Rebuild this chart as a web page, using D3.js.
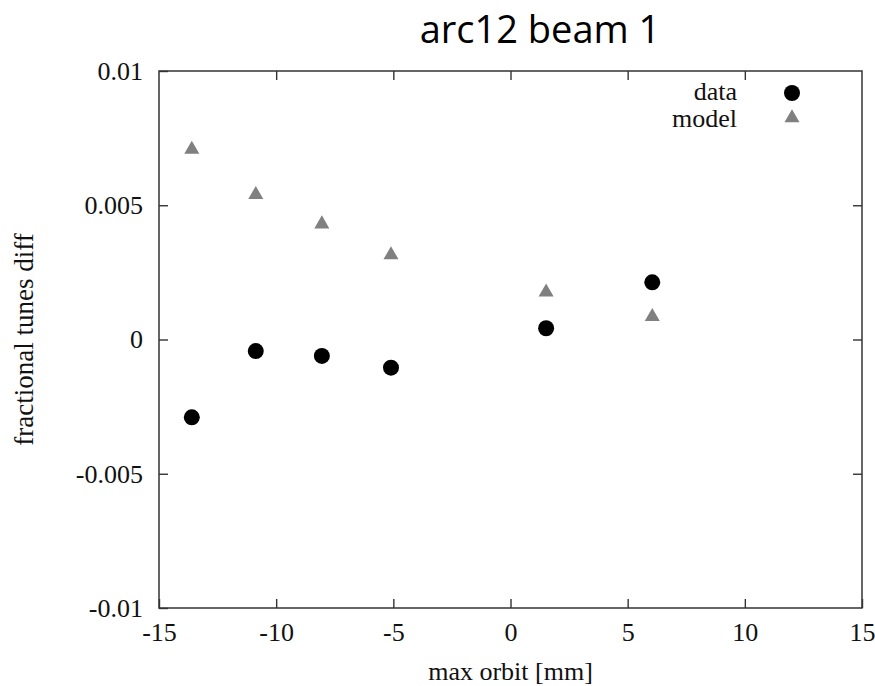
<!DOCTYPE html>
<html>
<head>
<meta charset="utf-8">
<script src="https://cdn.jsdelivr.net/npm/d3@7"></script>
<style>
  body { margin: 0; background: #fff; }
  svg { display: block; }
  .axis text { font-family: "Liberation Serif", "DejaVu Serif", serif; font-size: 26px; fill: #111; }
  .axis line { stroke: #333; stroke-width: 1.4; }
</style>
</head>
<body>
<svg id="chart" width="875" height="686"></svg>
<script>
// data
var orbit = [-13.6, -10.87, -8.05, -5.1, 1.52, 6.05];
var dataTune = [-0.0029, -0.00043, -0.00061, -0.00105, 0.00042, 0.00213];
var modelTune = [0.00708, 0.00539, 0.0043, 0.00315, 0.00176, 0.00085];
var xTicks = [-15, -10, -5, 0, 5, 10, 15];
var yTicks = [-0.01, -0.005, 0, 0.005, 0.01];
var seriesNames = ["data", "model"];

var svg = d3.select("#chart");

var mLeft = 159, mRight = 862, mTop = 71, mBottom = 608;

var x = d3.scaleLinear().domain([-15, 15]).range([mLeft, mRight]);
var y = d3.scaleLinear().domain([-0.01, 0.01]).range([mBottom, mTop]);

// title
svg.append("text")
  .attr("x", 540)
  .attr("y", 43)
  .attr("text-anchor", "middle")
  .style("font-family", "'Open Sans', 'Liberation Sans', sans-serif")
  .style("font-size", "38px")
  .style("fill", "#000")
  .text("arc12 beam 1");

// axes, ticks point inward; plain hyphen for minus like the original
var fmt = function(d) { return String(d); };

svg.append("g").attr("class", "axis")
  .attr("transform", "translate(0," + mBottom + ")")
  .call(d3.axisBottom(x).tickValues(xTicks).tickSizeInner(-9).tickSizeOuter(0).tickPadding(15).tickFormat(fmt));

svg.append("g").attr("class", "axis")
  .attr("transform", "translate(0," + mTop + ")")
  .call(d3.axisTop(x).tickValues(xTicks.slice(1, -1)).tickSizeInner(-9).tickSizeOuter(0).tickFormat(""));

svg.append("g").attr("class", "axis")
  .attr("transform", "translate(" + mLeft + ",0)")
  .call(d3.axisLeft(y).tickValues(yTicks).tickSizeInner(-9).tickSizeOuter(0).tickPadding(16).tickFormat(fmt));

svg.append("g").attr("class", "axis")
  .attr("transform", "translate(" + mRight + ",0)")
  .call(d3.axisRight(y).tickValues(yTicks.slice(1, -1)).tickSizeInner(-9).tickSizeOuter(0).tickFormat(""));

svg.selectAll(".axis .domain").remove();

// frame
svg.append("rect")
  .attr("x", mLeft).attr("y", mTop)
  .attr("width", mRight - mLeft).attr("height", mBottom - mTop)
  .attr("fill", "none").attr("stroke", "#333").attr("stroke-width", 1.5);

// axis labels
svg.append("text")
  .attr("x", x(0))
  .attr("y", 680)
  .attr("text-anchor", "middle")
  .style("font-family", "'Liberation Serif', serif")
  .style("font-size", "26px")
  .style("fill", "#111")
  .text("max orbit [mm]");

svg.append("text")
  .attr("transform", "translate(33," + y(0) + ") rotate(-90)")
  .attr("text-anchor", "middle")
  .style("font-family", "'Liberation Serif', serif")
  .style("font-size", "27px")
  .style("fill", "#111")
  .text("fractional tunes diff");

// points
var tri = d3.symbol().type(d3.symbolTriangle).size(98);

svg.append("g").selectAll("path")
  .data(orbit)
  .enter().append("path")
  .attr("d", tri)
  .attr("transform", function(d, i) { return "translate(" + x(d) + "," + y(modelTune[i]) + ")"; })
  .attr("fill", "#808080");

svg.append("g").selectAll("circle")
  .data(orbit)
  .enter().append("circle")
  .attr("cx", function(d) { return x(d); })
  .attr("cy", function(d, i) { return y(dataTune[i]); })
  .attr("r", 8)
  .attr("fill", "#000");

// legend
var legend = svg.append("g");
legend.selectAll("text")
  .data(seriesNames)
  .enter().append("text")
  .attr("x", 737)
  .attr("y", function(d, i) { return 100 + i * 27; })
  .attr("text-anchor", "end")
  .style("font-family", "'Liberation Serif', serif")
  .style("font-size", "26px")
  .style("fill", "#111")
  .text(function(d) { return d; });

legend.append("circle")
  .attr("cx", 792).attr("cy", 93).attr("r", 8).attr("fill", "#000");
legend.append("path")
  .attr("d", tri)
  .attr("transform", "translate(792,118)")
  .attr("fill", "#808080");
</script>
</body>
</html>
